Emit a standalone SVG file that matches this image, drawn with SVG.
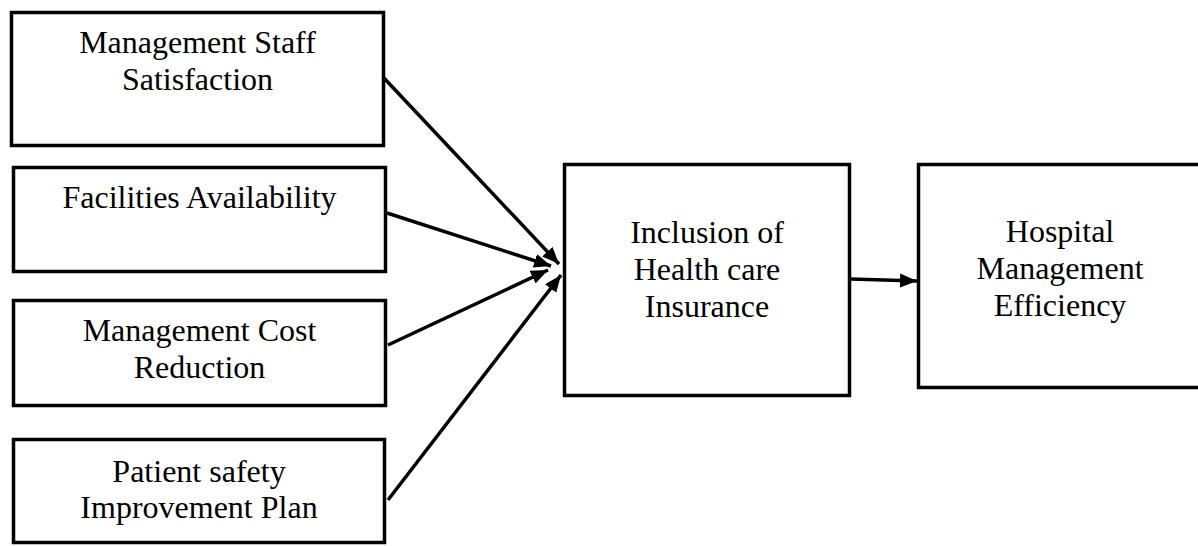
<svg xmlns="http://www.w3.org/2000/svg" width="1198" height="546" viewBox="0 0 1198 546">
<style>
.box{fill:#fff;stroke:#000;stroke-width:3.5}
.t{font-family:"Liberation Serif","Times New Roman",serif;font-size:32px;fill:#000;text-anchor:middle}
.c{stroke:#000;stroke-width:3.5;fill:none;marker-end:url(#ah)}
</style>
<defs>
<marker id="ah" markerUnits="userSpaceOnUse" markerWidth="18" markerHeight="16" refX="17" refY="7" orient="auto">
<path d="M0,0 L17,7 L0,14 z" fill="#000"/>
</marker>
</defs>
<rect width="1198" height="546" fill="#fff"/>
<g id="n1"><rect class="box" x="11.5" y="12.5" width="372" height="133"/><text class="t" x="197.5" y="53">Management Staff</text><text class="t" x="197.5" y="90">Satisfaction</text></g>
<g id="n2"><rect class="box" x="13.5" y="167.5" width="372" height="104"/><text class="t" x="199.5" y="208">Facilities Availability</text></g>
<g id="n3"><rect class="box" x="13.5" y="300.5" width="372" height="105"/><text class="t" x="199.5" y="341">Management Cost</text><text class="t" x="199.5" y="378">Reduction</text></g>
<g id="n4"><rect class="box" x="13.5" y="439.5" width="371" height="103"/><text class="t" x="199" y="482">Patient safety</text><text class="t" x="199" y="518">Improvement Plan</text></g>
<g id="n5"><rect class="box" x="564.5" y="164.5" width="285" height="231"/><text class="t" x="707" y="243">Inclusion of</text><text class="t" x="707" y="280">Health care</text><text class="t" x="707" y="317">Insurance</text></g>
<g id="n6"><rect class="box" x="918.5" y="164.5" width="285" height="223"/><text class="t" x="1060" y="242">Hospital</text><text class="t" x="1060" y="279">Management</text><text class="t" x="1060" y="316">Efficiency</text></g>
<g id="connectors">
<line class="c" x1="383" y1="77" x2="559" y2="264"/>
<line class="c" x1="387" y1="213" x2="551" y2="266"/>
<line class="c" x1="388" y1="345" x2="548" y2="270"/>
<line class="c" x1="388" y1="500" x2="561" y2="275"/>
<line class="c" x1="851" y1="279" x2="917" y2="281"/>
</g>
</svg>
